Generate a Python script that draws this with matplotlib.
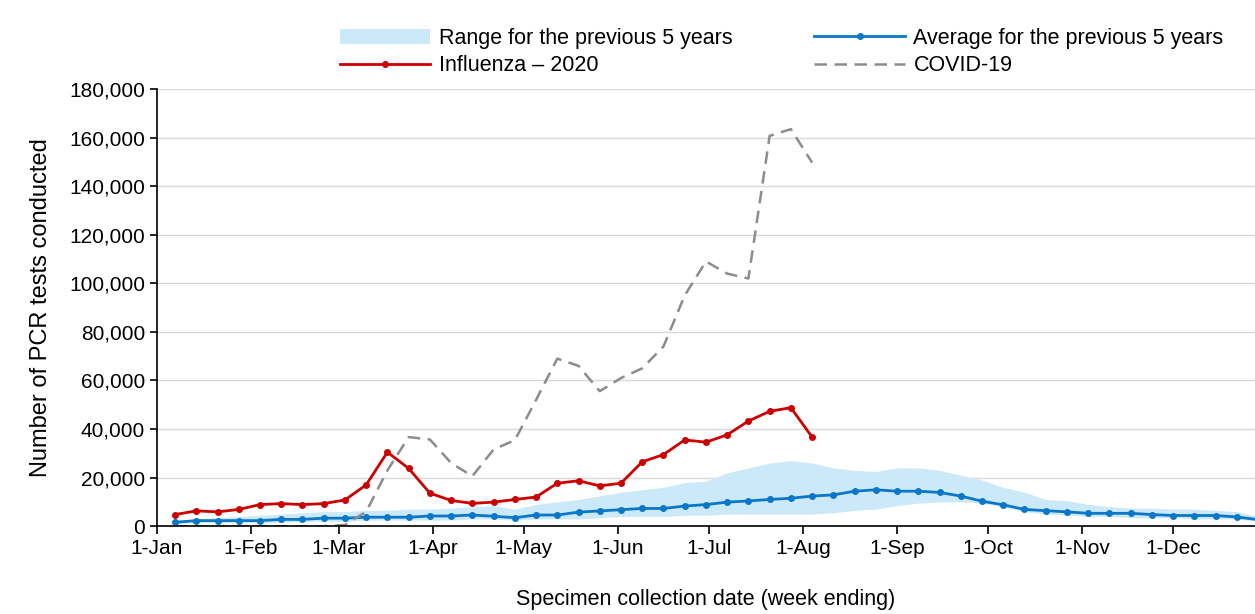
import numpy as np
import pandas as pd
import matplotlib.pyplot as plt
import matplotlib.dates as mdates
from matplotlib.ticker import FuncFormatter

plt.rcParams['font.family'] = ['Liberation Sans', 'DejaVu Sans']

weeks = pd.date_range("2020-01-07", periods=52, freq="7D")

flu_2020 = [4.8, 6.3, 5.9, 6.9, 8.9, 9.3, 8.9, 9.3, 10.8, 17.0, 30.5, 23.8, 13.6, 10.6,
            9.4, 9.9, 11.0, 12.0, 17.7, 18.7, 16.6, 17.7, 26.5, 29.5, 35.5, 34.6,
            37.6, 43.3, 47.3, 48.8, 36.7]
covid = [0, 0, 0, 0, 0, 0, 0, 0, 0.5, 6, 23, 36.7, 35.7, 26, 20.6, 31.6, 35.4, 52,
         69, 66, 55.6, 61, 65, 74, 95, 109, 104, 102, 160.7, 163.5, 149.7]
avg_5yr = [1.6, 2.3, 2.3, 2.3, 2.3, 2.8, 2.8, 3.3, 3.3, 3.7, 3.7, 3.7, 4.2, 4.2, 4.6,
           4.1, 3.5, 4.6, 4.6, 5.8, 6.3, 6.8, 7.3, 7.3, 8.3, 8.9, 9.9, 10.4, 11.0, 11.5,
           12.4, 12.9, 14.4, 15.0, 14.4, 14.4, 13.9, 12.4, 10.3, 8.8, 6.9, 6.4, 5.9,
           5.3, 5.3, 5.3, 4.8, 4.4, 4.4, 4.4, 3.8, 2.7]
range_hi = [2.5, 3, 3.5, 4, 4.5, 5, 5.5, 6, 6, 6.5, 6.5, 7, 7, 7.5, 8, 8.5, 7, 9, 10, 11,
            12.5, 14, 15, 16, 18, 18.5, 22, 24, 26, 27, 26, 24, 23, 22.5, 24, 24, 23, 21,
            19, 16, 14, 11, 10.5, 9, 8, 7.5, 7.5, 7, 7, 6.5, 6, 4]
range_lo = [1, 1.5, 1.5, 1.5, 1.5, 1.5, 2, 2, 2, 2.5, 2.5, 2.5, 2.5, 2.5, 3, 3, 2.5, 3, 3,
            3, 3.5, 4, 4, 4, 4.5, 4.5, 5, 5, 5, 5, 5, 5.5, 6.5, 7, 8.5, 9.5, 10, 10, 9.5,
            8, 6, 5, 4.5, 4, 4, 3.5, 3.5, 3.5, 3, 3, 3, 2]

k = 1000
fig = plt.figure(figsize=(12.55, 6.14), dpi=100)
ax = fig.add_axes([0.125, 0.143, 0.875, 0.712])

rng = ax.fill_between(weeks, np.array(range_lo) * k, np.array(range_hi) * k,
                      color="#cce9fa", lw=0, label="Range for the previous 5 years")
avg, = ax.plot(weeks, np.array(avg_5yr) * k, color="#0a77c9", lw=2, marker="o", ms=4,
               label="Average for the previous 5 years")
flu, = ax.plot(weeks[:len(flu_2020)], np.array(flu_2020) * k, color="#cc0000", lw=2,
               marker="o", ms=4, label="Influenza \u2013 2020")
cov, = ax.plot(weeks[:len(covid)], np.array(covid) * k, color="#8c8c8c", lw=1.8,
               ls=(0, (5, 3)), label="COVID-19")

ax.set_ylim(0, 180000)
ax.set_yticks(range(0, 180001, 20000))
ax.yaxis.set_major_formatter(FuncFormatter(lambda v, p: f"{int(v):,}"))
ax.set_xlim(pd.Timestamp("2020-01-01"), pd.Timestamp("2020-12-28"))
ax.xaxis.set_major_locator(mdates.MonthLocator())
ax.xaxis.set_major_formatter(FuncFormatter(
    lambda v, p: f"1-{mdates.num2date(v).strftime('%b')}"))
ax.grid(axis="y", color="#d9d9d9", lw=1)
ax.set_axisbelow(True)
for s in ["top", "right"]:
    ax.spines[s].set_visible(False)
ax.tick_params(labelsize=15, length=6, width=1.2, direction="out")
ax.tick_params(axis="y", length=5)
ax.spines["left"].set_linewidth(1.2)
ax.spines["bottom"].set_linewidth(1.2)
ax.set_ylabel("Number of PCR tests conducted", fontsize=17, labelpad=12)
ax.set_xlabel("Specimen collection date (week ending)", fontsize=15.5, labelpad=22)

ax.legend([rng, flu, avg, cov], [h.get_label() for h in [rng, flu, avg, cov]],
          loc="lower left", bbox_to_anchor=(0.155, 1.0), ncol=2, frameon=False,
          fontsize=15.5, columnspacing=3.8, handlelength=4.2, handletextpad=0.4,
          borderaxespad=0.2, labelspacing=0.3)

fig.savefig("out.png")
